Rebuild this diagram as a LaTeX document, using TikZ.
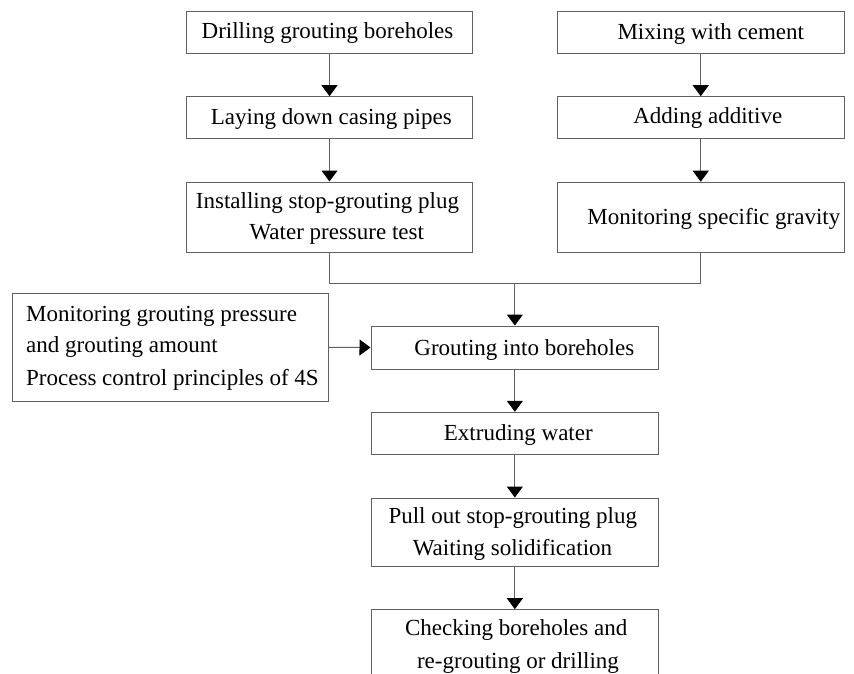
\documentclass[tikz,border=0pt]{standalone}
\usepackage{fontspec}
\setmainfont{Liberation Serif}
\usetikzlibrary{arrows.meta}
\begin{document}
\begin{tikzpicture}[x=1pt,y=-1pt,
  box/.style={draw=black!62,line width=1pt,rectangle,inner sep=0pt,minimum width=#1},
  box/.default=287pt,
  lbl/.style={anchor=base,inner sep=0pt,font=\fontsize{23}{27}\selectfont},
  lblw/.style={anchor=base west,inner sep=0pt,font=\fontsize{23}{27}\selectfont},
  conn/.style={draw=black!62,line width=1pt},
  arr/.style={conn,-{Triangle[width=16pt,length=11pt,color=black]}}]
\useasboundingbox (0,0) rectangle (854,674);
\clip (0,0) rectangle (854,674);
% left column
\node[box=286pt,minimum height=42pt] (d1) at (329.5,32.4) {};
\node[box=286pt,minimum height=42.3pt] (d2) at (329.5,117.85) {};
\node[box=286pt,minimum height=70pt] (d3) at (329.5,217) {};
% right column
\node[box=287.5pt,minimum height=42pt] (m1) at (700.75,32.2) {};
\node[box=287.5pt,minimum height=42.3pt] (m2) at (700.75,117.85) {};
\node[box=287.5pt,minimum height=70pt] (m3) at (700.75,217.2) {};
% side box
\node[box=316.5pt,minimum height=107.5pt] (sb) at (170.25,347.4) {};
% main column
\node[box=287.7pt,minimum height=43pt] (g) at (514.85,347.5) {};
\node[box=287.7pt,minimum height=42pt] (e) at (514.85,433.3) {};
\node[box=287.7pt,minimum height=68.7pt] (p) at (514.85,532.35) {};
\node[box=287.7pt,minimum height=120pt] (c) at (514.85,669.7) {};
% texts
\node[lbl] (t1) at (327.5,39) {Drilling grouting boreholes};
\node[lbl] (t2) at (331.3,124.3) {Laying down casing pipes};
\node[lbl] (t3a) at (327.5,208.3) {Installing stop-grouting plug};
\node[lbl] (t3b) at (336.8,239.3) {Water pressure test};
\node[lbl] (u1) at (710.8,39.3) {Mixing with cement};
\node[lbl] (u2) at (707.8,123.3) {Adding additive};
\node[lbl] (u3) at (713.8,224) {Monitoring specific gravity};
\node[lblw] (s1) at (26,321) {Monitoring grouting pressure};
\node[lblw] (s2) at (26,352.3) {and grouting amount};
\node[lblw] (s3) at (26,385.7) {Process control principles of 4S};
\node[lbl] (tg) at (524.3,355) {Grouting into boreholes};
\node[lbl] (te) at (518.3,440.7) {Extruding water};
\node[lbl] (tp1) at (512.8,523.3) {Pull out stop-grouting plug};
\node[lbl] (tp2) at (512.5,555) {Waiting solidification};
\node[lbl] (tc1) at (516.2,635) {Checking boreholes and};
\node[lbl] (tc2) at (518,668.3) {re-grouting or drilling};
% connectors
\draw[arr] (d1.south) -- (d2.north);
\draw[arr] (d2.south) -- (d3.north);
\draw[arr] (m1.south) -- (m2.north);
\draw[arr] (m2.south) -- (m3.north);
\coordinate (j) at (514.85,283);
\draw[conn] (d3.south) |- (j);
\draw[conn] (m3.south) |- (j);
\draw[arr] (j) -- (g.north);
\draw[arr] (sb.east) -- (g.west);
\draw[arr] (g.south) -- (e.north);
\draw[arr] (e.south) -- (p.north);
\draw[arr] (p.south) -- (c.north);
\end{tikzpicture}
\end{document}
